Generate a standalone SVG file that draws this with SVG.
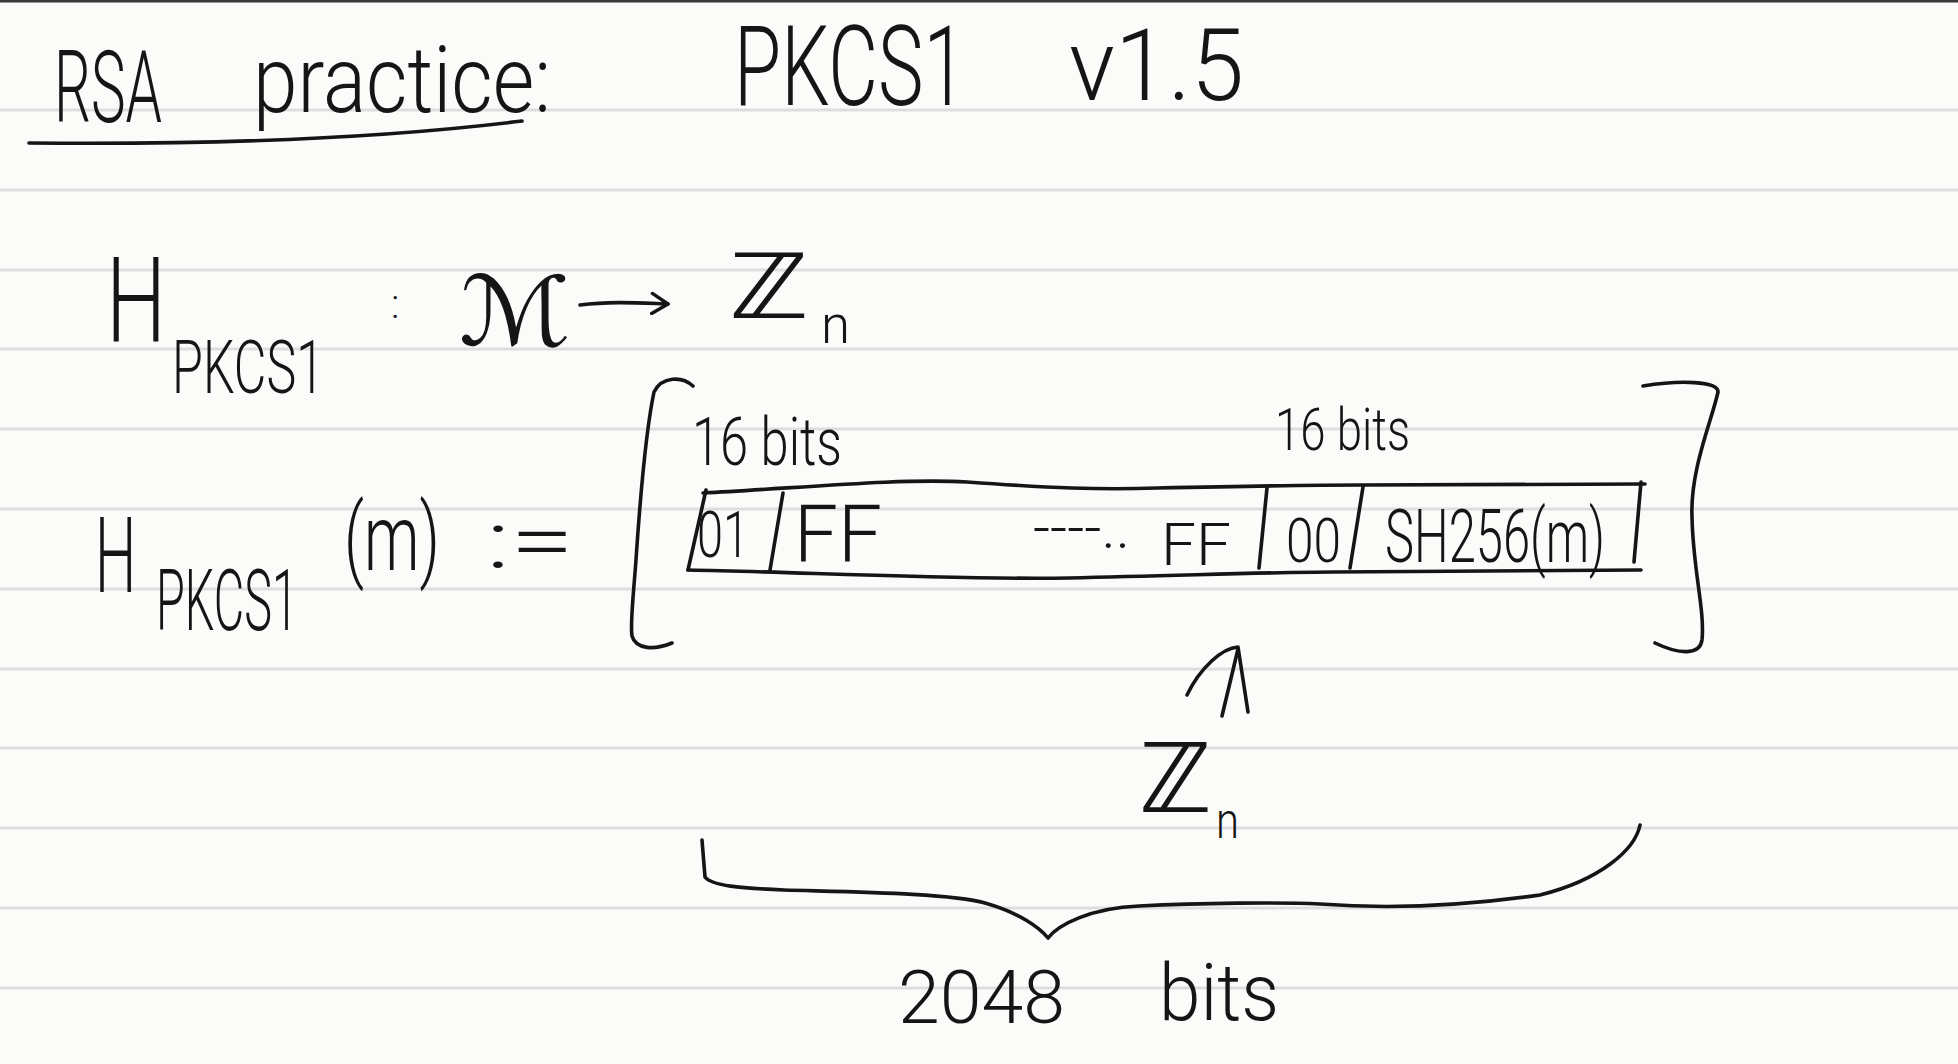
<svg xmlns="http://www.w3.org/2000/svg" width="1958" height="1064" viewBox="0 0 1958 1064">
<defs>
<style>
.rule{stroke:#dddddd;stroke-width:3}
.ink{fill:none;stroke:#151515;stroke-width:3.6;stroke-linecap:round;stroke-linejoin:round}
.t{font-family:Roboto,"Open Sans","DejaVu Sans",sans-serif;font-weight:300;fill:#151515}
.s{font-family:"DejaVu Sans","Noto Sans",sans-serif;font-weight:normal;fill:#151515}
</style>
<marker id="head" viewBox="0 0 20 24" refX="18" refY="12" markerWidth="20" markerHeight="24" markerUnits="userSpaceOnUse" orient="auto">
<path d="M2,2 L18,12 L2,22" fill="none" stroke="#151515" stroke-width="3.4" stroke-linecap="round" stroke-linejoin="round"/>
</marker>
</defs>
<rect x="0" y="0" width="1958" height="1064" fill="#fbfcfa"/>
<g id="paper">
<line x1="0" y1="1" x2="1958" y2="1" stroke="#3a3a3a" stroke-width="3"/>
<line class="rule" x1="0" y1="110" x2="1958" y2="110"/>
<line class="rule" x1="0" y1="190" x2="1958" y2="190"/>
<line class="rule" x1="0" y1="270" x2="1958" y2="270"/>
<line class="rule" x1="0" y1="349" x2="1958" y2="349"/>
<line class="rule" x1="0" y1="429" x2="1958" y2="429"/>
<line class="rule" x1="0" y1="509" x2="1958" y2="509"/>
<line class="rule" x1="0" y1="589" x2="1958" y2="589"/>
<line class="rule" x1="0" y1="669" x2="1958" y2="669"/>
<line class="rule" x1="0" y1="748" x2="1958" y2="748"/>
<line class="rule" x1="0" y1="828" x2="1958" y2="828"/>
<line class="rule" x1="0" y1="908" x2="1958" y2="908"/>
<line class="rule" x1="0" y1="988" x2="1958" y2="988"/>
</g>
<g id="title">
<text class="t" x="54" y="122" font-size="100" textLength="108" lengthAdjust="spacingAndGlyphs">RSA</text>
<text class="t" x="253" y="112" font-size="92" textLength="298" lengthAdjust="spacingAndGlyphs">practice:</text>
<path class="ink" d="M29,143 Q320,146 522,121"/>
<text class="t" x="734" y="105" font-size="112" textLength="232" lengthAdjust="spacingAndGlyphs">PKCS1</text>
<text class="t" x="1069" y="100" font-size="100" textLength="175" lengthAdjust="spacingAndGlyphs">v1.5</text>
</g>
<g id="hash-signature">
<text class="t" transform="translate(106,342) scale(0.72,1)" font-size="118">H</text>
<text class="t" x="172" y="393" font-size="74" textLength="152" lengthAdjust="spacingAndGlyphs">PKCS1</text>
<text class="t" x="391" y="318" font-size="40">:</text>
<text class="s" x="459" y="345" font-size="96" textLength="112" lengthAdjust="spacingAndGlyphs">ℳ</text>
<text class="s" x="729" y="318" font-size="90" textLength="80" lengthAdjust="spacingAndGlyphs">ℤ</text>
<text class="t" x="821" y="343" font-size="54" textLength="29" lengthAdjust="spacingAndGlyphs">n</text>
</g>
<g id="hash-definition">
<text class="t" transform="translate(95,592) scale(0.55,1)" font-size="106">H</text>
<text class="t" transform="translate(156,630) scale(0.55,1)" font-size="86" textLength="258" lengthAdjust="spacingAndGlyphs">PKCS1</text>
<text class="t" transform="translate(344,570) scale(0.68,1)" font-size="92">(m)</text>
<text class="t" x="486" y="568" font-size="80" textLength="88" lengthAdjust="spacingAndGlyphs">:=</text>
</g>
<g id="brackets">
<path class="ink" d="M693,386 C682,376 662,376 654,392 C646,430 640,500 636,560 C633,600 630,625 632,636 C636,650 655,650 672,643"/>
<path class="ink" d="M1643,386 C1680,380 1718,381 1718,392 C1712,420 1690,470 1692,517 C1693,570 1705,610 1702,640 C1700,655 1680,655 1655,643"/>
</g>
<g id="padding-block">
<text class="t" x="692" y="465" font-size="66" textLength="150" lengthAdjust="spacingAndGlyphs">16 bits</text>
<text class="t" x="1275" y="450" font-size="60" textLength="135" lengthAdjust="spacingAndGlyphs">16 bits</text>
<path class="ink" d="M703,493 C800,488 900,478 967,482 C1050,488 1100,490 1157,488 C1250,486 1300,485 1363,485 L1645,484"/>
<path class="ink" d="M688,570 C800,572 950,580 1069,578 C1200,575 1280,572 1333,572 L1641,570"/>
<path class="ink" d="M706,490 L688,570 M783,493 L770,570 M1267,488 L1259,568 M1363,487 L1350,568 M1641,482 L1634,562"/>
<text class="t" x="697" y="557" font-size="64" textLength="52" lengthAdjust="spacingAndGlyphs">01</text>
<text class="t" x="794" y="562" font-size="80" textLength="88" lengthAdjust="spacingAndGlyphs">FF</text>
<text class="t" x="1033" y="548" font-size="60" textLength="97" lengthAdjust="spacingAndGlyphs">----..</text>
<text class="t" x="1161" y="565" font-size="60" textLength="70" lengthAdjust="spacingAndGlyphs">FF</text>
<text class="t" x="1286" y="562" font-size="62" textLength="55" lengthAdjust="spacingAndGlyphs">00</text>
<text class="t" x="1385" y="562" font-size="74" textLength="220" lengthAdjust="spacingAndGlyphs">SH256(m)</text>
</g>
<g id="zn-label">
<text class="s" x="1139" y="812" font-size="96" textLength="73" lengthAdjust="spacingAndGlyphs">ℤ</text>
<text class="t" x="1216" y="838" font-size="50" textLength="23" lengthAdjust="spacingAndGlyphs">n</text>
</g>
<g id="size-label">
<path class="ink" d="M702,840 L705,877 C712,886 740,888 784,890 C850,892 950,893 985,903 C1020,913 1040,928 1048,938 C1058,925 1090,908 1139,906 C1200,903 1280,902 1320,904 C1400,910 1470,905 1540,895 C1600,880 1635,850 1640,825"/>
<text class="t" x="898" y="1023" font-size="74" textLength="167" lengthAdjust="spacingAndGlyphs">2048</text>
<text class="t" x="1159" y="1020" font-size="80" textLength="120" lengthAdjust="spacingAndGlyphs">bits</text>
</g>
<g id="connectors">
<path class="ink" d="M580,305 C610,301 640,303 668,304" marker-end="url(#head)"/>
<path class="ink" d="M1222,716 L1238,649"/>
<path class="ink" d="M1187,695 C1200,668 1222,648 1238,647 L1248,712"/>
</g>
</svg>
